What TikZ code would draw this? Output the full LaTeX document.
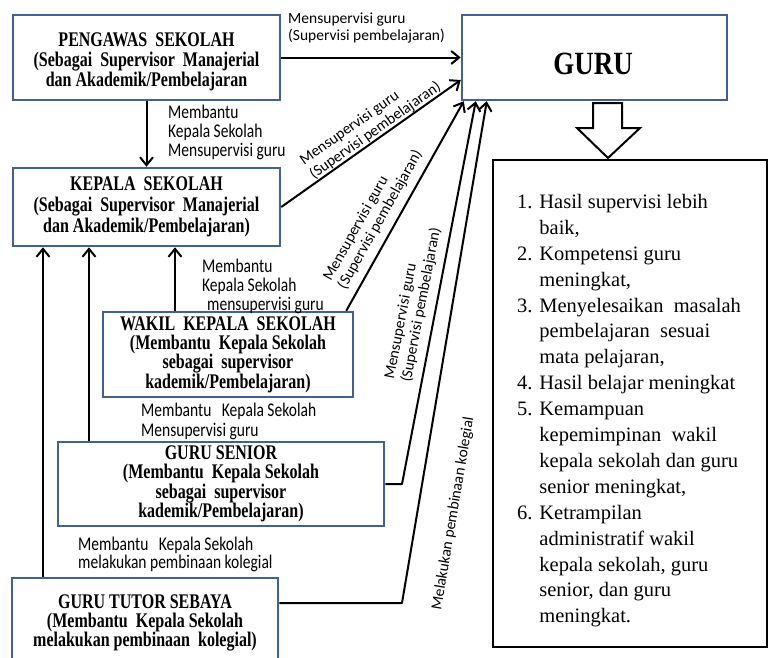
\documentclass[tikz,border=0pt]{standalone}
\usepackage{fontspec}
\setmainfont{Liberation Serif}
\newfontfamily\lblfont{Carlito}
\usepackage{graphicx}
\usetikzlibrary{arrows.meta}
\definecolor{boxblue}{HTML}{41628E}
\newcommand{\cstk}[3]{\scalebox{1}[#1]{\vbox{\baselineskip=#2\relax\lineskiplimit=-100pt\relax\lineskip=0pt\relax\halign{\hfil##\hfil\cr#3\crcr}}}}
\newcommand{\lstk}[3]{\scalebox{1}[#1]{\vbox{\baselineskip=#2\relax\lineskiplimit=-100pt\relax\lineskip=0pt\relax\halign{##\hfil\cr#3\crcr}}}}
\begin{document}
\begin{tikzpicture}[x=1pt,y=-1pt,
  box/.style={draw=boxblue,line width=2.5pt,fill=white,inner sep=0pt},
  btxt/.style={font=\fontsize{16}{16}\selectfont\bfseries,inner sep=0pt},
  lbl/.style={font=\lblfont\fontsize{15.5}{17}\selectfont,inner sep=0pt},
  conn/.style={line width=2pt,line join=round},
  arr/.style={conn,-{Straight Barb[length=8pt,width=13pt]}}]
\useasboundingbox (0,0) rectangle (768,657);
\fill[white] (0,0) rectangle (768,657);
\clip (0,0) rectangle (768,657);

% boxes
\node[box,minimum width=267pt,minimum height=85pt] (peng) at (146.5,57.5) {};
\node[btxt] (pengT) at (146.5,62) {\cstk{1.3}{15.6pt}{PENGAWAS\ \ SEKOLAH\cr(Sebagai\ \ Supervisor\ \ Manajerial\cr dan Akademik/Pembelajaran}};
\node[box,minimum width=265pt,minimum height=85pt] (guru) at (594.5,57.5) {};
\node[font=\fontsize{27}{27}\selectfont\bfseries,inner sep=0pt] (guruT) at (593,64) {\scalebox{1}[1.2]{GURU}};
\node[box,btxt,minimum width=267pt,minimum height=78pt] (kep) at (146.5,207) {\cstk{1.3}{16.2pt}{KEPALA\ \ SEKOLAH\cr(Sebagai\ \ Supervisor\ \ Manajerial\cr dan Akademik/Pembelajaran)}};
\node[box,btxt,minimum width=250pt,minimum height=85pt] (wakil) at (228,354.5) {\cstk{1.3}{14.9pt}{WAKIL\ \ KEPALA\ \ SEKOLAH\cr(Membantu\ \ Kepala Sekolah\cr sebagai\ \ supervisor\cr kademik/Pembelajaran)}};
\node[box,btxt,minimum width=326pt,minimum height=84pt] (senior) at (221,484) {\cstk{1.3}{14.9pt}{GURU SENIOR\cr(Membantu\ \ Kepala Sekolah\cr sebagai\ \ supervisor\cr kademik/Pembelajaran)}};
\node[box,btxt,minimum width=266pt,minimum height=90pt] (tutor) at (145,623) {\cstk{1.3}{14.7pt}{GURU TUTOR SEBAYA\cr(Membantu\ \ Kepala Sekolah\cr melakukan pembinaan\ \ kolegial)}};

\node[draw=black,line width=2.8pt,fill=white,minimum width=274pt,minimum height=487pt,inner sep=0pt] (hasil) at (630,403.5) {};
\node[font=\fontsize{20.5}{25.9}\selectfont,align=left,anchor=north west,inner sep=0pt] (hasilT) at (517,194) {1. Hasil supervisi lebih\\
\hphantom{1. }baik,\\
2. Kompetensi guru\\
\hphantom{2. }meningkat,\\
3. Menyelesaikan\ \ masalah\\
\hphantom{3. }pembelajaran\ \ sesuai\\
\hphantom{3. }mata pelajaran,\\
4. Hasil belajar meningkat\\
5. Kemampuan\\
\hphantom{5. }kepemimpinan\ \ wakil\\
\hphantom{5. }kepala sekolah dan guru\\
\hphantom{5. }senior meningkat,\\
6. Ketrampilan\\
\hphantom{6. }administratif wakil\\
\hphantom{6. }kepala sekolah, guru\\
\hphantom{6. }senior, dan guru\\
\hphantom{6. }meningkat.};

% block arrow
\draw[line width=2pt,fill=white,line join=miter] (593,103) -- (622,103) -- (622,128) -- (640,128) -- (608,158) -- (577,128) -- (593,128) -- cycle;

% connectors
\draw[arr] (peng.east) -- (guru.west);
\draw[arr] (peng.south) -- (kep.north);
\draw[arr] (kep.east) -- node[lbl,sloped,above=0pt,pos=0.55]{\lstk{1}{17pt}{Mensupervisi guru\cr(Supervisi pembelajaran)}} ([yshift=-22.5pt]guru.west);
\draw[arr] ([xshift=-8pt]wakil.north east) -- node[lbl,sloped,above=7pt,pos=0.4]{\lstk{1}{17pt}{Mensupervisi guru\cr(Supervisi pembelajaran)}} ([xshift=3pt]guru.south west);
\coordinate (c1) at (402,484);
\draw[arr] (senior.east) -- (c1) -- node[lbl,sloped,above=7pt,pos=0.46]{\lstk{1}{17pt}{Mensupervisi guru\cr(Supervisi pembelajaran)}} ([xshift=15pt]guru.south west);
\coordinate (c2) at (402,603);
\draw[arr] ([yshift=20pt]tutor.east) -- (c2) -- node[lbl,sloped,below=28pt,pos=0.19]{Melakukan pembinaan kolegial} ([xshift=26pt]guru.south west);

\draw[arr] ([xshift=-53pt]wakil.north) coordinate (w0) -- (w0 |- kep.south);
\draw[arr] ([xshift=-132pt]senior.north) coordinate (s0) -- (s0 |- kep.south);
\draw[arr] ([xshift=-102pt]tutor.north) coordinate (t0) -- (t0 |- kep.south);

% labels
\node[lbl,anchor=north west] (la) at (288,13) {\lstk{1}{17pt}{Mensupervisi guru\cr(Supervisi pembelajaran)}};
\node[lbl,anchor=north west] (lb) at (168,105) {\lstk{1.25}{15.2pt}{Membantu\cr Kepala Sekolah\cr Mensupervisi guru}};
\node[lbl,anchor=north west] (lc) at (202,259) {\lstk{1.25}{15pt}{Membantu\cr Kepala Sekolah\cr\hspace*{5pt}mensupervisi guru}};
\node[lbl,anchor=north west] (ld) at (141,403) {\lstk{1.25}{16pt}{Membantu\ \ \ Kepala Sekolah\cr Mensupervisi guru}};
\node[lbl,anchor=north west] (le) at (78,537) {\lstk{1.25}{14.6pt}{Membantu\ \ \ Kepala Sekolah\cr melakukan pembinaan kolegial}};
\end{tikzpicture}
\end{document}
